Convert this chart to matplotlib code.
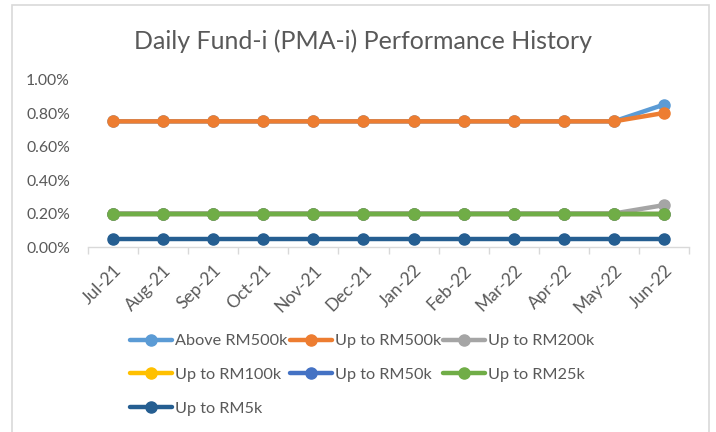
import matplotlib
matplotlib.use("Agg")
import matplotlib.pyplot as plt
from matplotlib.ticker import PercentFormatter, FixedLocator
from matplotlib.patches import Rectangle

months = ["Jul-21", "Aug-21", "Sep-21", "Oct-21", "Nov-21", "Dec-21",
          "Jan-22", "Feb-22", "Mar-22", "Apr-22", "May-22", "Jun-22"]
series_names = ["Above RM500k", "Up to RM500k", "Up to RM200k",
                "Up to RM100k", "Up to RM50k", "Up to RM25k", "Up to RM5k"]
above_500k = [0.75] * 11 + [0.85]
upto_500k = [0.75] * 11 + [0.80]
upto_200k = [0.20] * 11 + [0.25]
upto_100k = [0.20] * 12
upto_50k = [0.20] * 12
upto_25k = [0.20] * 12
upto_5k = [0.05] * 12
series_values = [above_500k, upto_500k, upto_200k, upto_100k, upto_50k, upto_25k, upto_5k]
colors = ["#5B9BD5", "#ED7D31", "#A5A5A5", "#FFC000", "#4472C4", "#70AD47", "#255E91"]

plt.rcParams['font.family'] = ['Lato', 'DejaVu Sans']
text_color = "#595959"

fig = plt.figure(figsize=(7.16, 4.32), dpi=100)
W, H = 716, 432
# chart border
fig.patches.append(Rectangle((12 / W, -0.1), (709 - 12) / W, 1 - 5 / H + 0.1,
                             transform=fig.transFigure, fill=False,
                             edgecolor="#D9D9D9", linewidth=1.2))

ax = fig.add_axes([88 / W, 1 - 247 / H, (689 - 88) / W, (247 - 79.5) / H])
x = list(range(len(months)))
handles = []
for name, vals, c in zip(series_names, series_values, colors):
    h, = ax.plot(x, [v / 100 for v in vals], color=c, linewidth=3.2, marker='o',
                 markersize=8, label=name, solid_capstyle='round')
    handles.append(h)

ax.set_xlim(-0.5, len(months) - 0.5)
ax.set_ylim(0, 0.01)
ax.yaxis.set_major_locator(FixedLocator([0, 0.002, 0.004, 0.006, 0.008, 0.010]))
ax.yaxis.set_major_formatter(PercentFormatter(1.0, decimals=2))
ax.set_xticks(x)
ax.set_xticklabels(months, rotation=45, ha='right', va='top', rotation_mode='anchor')
ax.set_xticks([i - 0.5 for i in range(len(months) + 1)], minor=True)
ax.tick_params(axis='x', which='major', length=0, pad=11, labelsize=12.5, labelcolor=text_color)
ax.tick_params(axis='x', which='minor', length=5, color="#D9D9D9", width=1)
ax.tick_params(axis='y', length=0, pad=13, labelsize=11.3, labelcolor=text_color)
for s in ["top", "right", "left"]:
    ax.spines[s].set_visible(False)
ax.spines["bottom"].set_color("#D9D9D9")
ax.spines["bottom"].set_linewidth(1)

fig.text(363 / W, 1 - 41 / H, "Daily Fund-i (PMA-i) Performance History",
         ha='center', va='center', fontsize=18, color=text_color)

# row-major order for 3 columns
order = [0, 3, 6, 1, 4, 2, 5]
leg = fig.legend([handles[i] for i in order], [series_names[i] for i in order],
                 loc='upper left', bbox_to_anchor=(130 / W, 1 - 334 / H), ncol=3,
                 frameon=False, fontsize=11.7, handlelength=2.58, handletextpad=0.18,
                 columnspacing=0.15, labelspacing=1.19, borderaxespad=0, borderpad=0)
for t in leg.get_texts():
    t.set_color(text_color)

fig.savefig("out.png", dpi=100)
